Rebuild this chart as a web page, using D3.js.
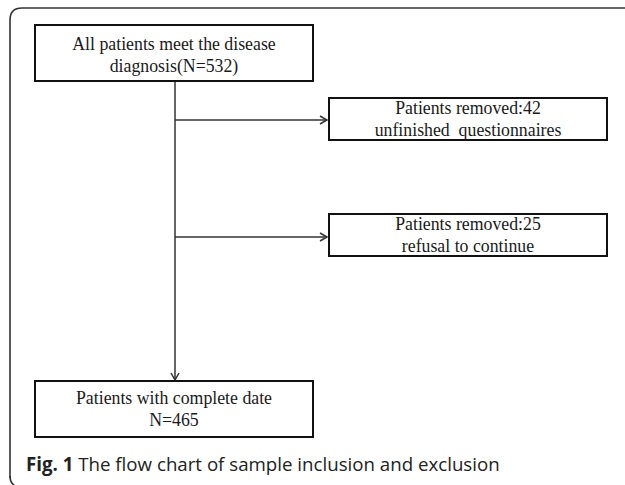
<!DOCTYPE html>
<html>
<head>
<meta charset="utf-8">
<script src="https://cdn.jsdelivr.net/npm/d3@7"></script>
<style>
  body { margin: 0; background: #fff; }
  .box-text { font-family: "Liberation Serif", "Times New Roman", serif; font-size: 17.8px; fill: #1a1a1a; }
  .caption { font-family: "Open Sans", sans-serif; font-size: 18.7px; fill: #222; }
</style>
</head>
<body>
<div id="chart"></div>
<script>
// flow chart content
var boxLabels = [
  ["All patients meet the disease", "diagnosis(N=532)"],
  ["Patients removed:42", "unfinished  questionnaires"],
  ["Patients removed:25", "refusal to continue"],
  ["Patients with complete date", "N=465"]
];
var captionBold = "Fig. 1";
var captionText = " The flow chart of sample inclusion and exclusion";

// layout (pixels)
var svgWidth = 625;
var svgHeight = 485;
var boxLayout = [
  { x: 35, y: 25, w: 278, h: 56, textTop: 25 },
  { x: 329, y: 98, w: 278, h: 42, textTop: 16 },
  { x: 329, y: 214, w: 278, h: 42, textTop: 16 },
  { x: 35, y: 381, w: 278, h: 56, textTop: 23 }
];
var trunkX = 175;
var branchY = [120, 237];
var lineH = 21.5;

var svg = d3.select("#chart")
  .append("svg")
  .attr("width", svgWidth)
  .attr("height", svgHeight);

// outer frame, only the left part shows
svg.append("path")
  .attr("d", "M10,478 L10,20 Q10,8 22,8 L640,8")
  .attr("fill", "none")
  .attr("stroke", "#333")
  .attr("stroke-width", 1.6);

svg.append("path")
  .attr("d", "M10,476 Q10,483 15,486")
  .attr("fill", "none")
  .attr("stroke", "#333")
  .attr("stroke-width", 1.6);

var lineColor = "#333";

// trunk line
svg.append("line")
  .attr("x1", trunkX).attr("y1", boxLayout[0].y + boxLayout[0].h)
  .attr("x2", trunkX).attr("y2", boxLayout[3].y - 1)
  .attr("stroke", lineColor)
  .attr("stroke-width", 1.5);

// down arrow head
var tipY = boxLayout[3].y - 1;
svg.append("path")
  .attr("d", "M" + (trunkX - 4) + "," + (tipY - 7) + " L" + trunkX + "," + tipY + " L" + (trunkX + 4) + "," + (tipY - 7))
  .attr("fill", "none").attr("stroke", lineColor).attr("stroke-width", 1.5);

// branch arrows
branchY.forEach(function(y, i) {
  var tipX = boxLayout[i + 1].x - 2;
  svg.append("line")
    .attr("x1", trunkX).attr("y1", y)
    .attr("x2", tipX).attr("y2", y)
    .attr("stroke", lineColor).attr("stroke-width", 1.5);
  svg.append("path")
    .attr("d", "M" + (tipX - 7) + "," + (y - 4) + " L" + tipX + "," + y + " L" + (tipX - 7) + "," + (y + 4))
    .attr("fill", "none").attr("stroke", lineColor).attr("stroke-width", 1.5);
});

// boxes
var boxes = svg.selectAll("g.box")
  .data(boxLabels)
  .enter()
  .append("g")
  .attr("class", "box")
  .attr("transform", function(d, i) {
    return "translate(" + boxLayout[i].x + "," + boxLayout[i].y + ")";
  });

boxes.append("rect")
  .attr("width", function(d, i) { return boxLayout[i].w; })
  .attr("height", function(d, i) { return boxLayout[i].h; })
  .attr("fill", "#fff")
  .attr("stroke", "#111")
  .attr("stroke-width", 2);

boxes.each(function(lines, i) {
  var b = boxLayout[i];
  d3.select(this).selectAll("text")
    .data(lines)
    .enter()
    .append("text")
    .attr("class", "box-text")
    .attr("x", b.w / 2)
    .attr("y", function(t, j) { return b.textTop + j * lineH; })
    .attr("text-anchor", "middle")
    .style("white-space", "pre")
    .text(function(t) { return t; });
});

// caption
var cap = svg.append("text")
  .attr("class", "caption")
  .attr("x", 26)
  .attr("y", 471);
cap.append("tspan").attr("font-weight", "bold").text(captionBold);
cap.append("tspan").text(captionText);
</script>
</body>
</html>
